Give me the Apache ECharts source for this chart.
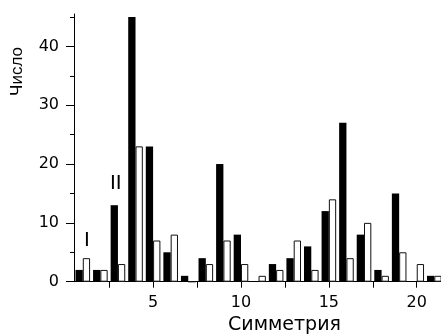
<!DOCTYPE html>
<html>
<head>
<meta charset="utf-8">
<script src="https://cdn.jsdelivr.net/npm/echarts@6/dist/echarts.min.js"></script>
<style>
  html, body { margin: 0; padding: 0; background: #fff; }
  #chart { width: 441px; height: 334px; }
</style>
</head>
<body>
<div id="chart"></div>
<script>
// симметрия 1..21, два набора (чёрный / белый)
const symmetry = [1, 2, 3, 4, 5, 6, 7, 8, 9, 10, 11, 12, 13, 14, 15, 16, 17, 18, 19, 20, 21]
const blackVals = [2, 2, 13, 45, 23, 5, 1, 4, 20, 8, 0, 3, 4, 6, 12, 27, 8, 2, 15, 0, 1]
const whiteVals = [4, 2, 3, 23, 7, 8, 0, 3, 7, 3, 1, 2, 7, 2, 14, 4, 10, 1, 5, 3, 1]
const xTicks = [2.5, 5, 7.5, 10, 12.5, 15, 17.5, 20]
const xLabels = [5, 10, 15, 20]
const yMinorTicks = [5, 15, 25, 35, 45]
const yLabels = [0, 10, 20, 30, 40]

const font = 'Liberation Sans, Arial, sans-serif'
const wide = 'DejaVu Sans, sans-serif'
const chart = echarts.init(document.getElementById('chart'))

const option = {
  animation: false,
  grid: { left: 74, right: 0, top: 14, bottom: 52.3, outerBoundsMode: 'none' },
  xAxis: {
    type: 'value',
    min: 0.5,
    max: 21.38,
    name: 'Симметрия',
    nameLocation: 'middle',
    nameGap: 33,
    nameTextStyle: { fontFamily: wide, fontSize: 19, color: '#000', padding: [0, 0, 0, 54] },
    splitLine: { show: false },
    axisLine: { lineStyle: { color: '#000', width: 1 } },
    axisTick: { length: 6, customValues: xTicks, lineStyle: { color: '#000' } },
    axisLabel: { customValues: xLabels, margin: 13, fontFamily: wide, fontSize: 16, color: '#000' }
  },
  yAxis: [{
    type: 'value',
    min: 0,
    max: 45.5,
    position: 'left',
    splitLine: { show: false },
    axisLine: { show: true, lineStyle: { color: '#000', width: 1 } },
    axisTick: { length: 4, customValues: yMinorTicks, lineStyle: { color: '#000' } },
    axisLabel: { show: false }
  }, {
    type: 'value',
    min: 0,
    max: 45.5,
    position: 'left',
    offset: 0,
    splitLine: { show: false },
    axisLine: { show: false },
    axisTick: { show: true, length: 8, customValues: yLabels, lineStyle: { color: '#000' } },
    axisLabel: { customValues: yLabels, margin: 15, fontFamily: wide, fontSize: 16, color: '#000' }
  }],
  series: [{
    type: 'bar',
    barWidth: 7.3,
    barGap: '0%',
    itemStyle: { color: '#000' },
    data: symmetry.map((s, i) => [s, blackVals[i]])
  }, {
    type: 'bar',
    barWidth: 7.3,
    barGap: '0%',
    itemStyle: { color: '#fff', borderColor: '#111', borderWidth: 1 },
    data: symmetry.map((s, i) => [s, whiteVals[i]])
  }],
  graphic: [
    { type: 'text', x: 17.5, y: 71.5, rotation: Math.PI / 2,
      style: { text: 'Число', font: '17px ' + font, fill: '#000', align: 'center', verticalAlign: 'middle' } },
    { type: 'text', left: 84, top: 230, style: { text: 'I', font: '21px ' + font, fill: '#000' } },
    { type: 'text', left: 110, top: 173, style: { text: 'II', font: '21px ' + font, fill: '#000' } }
  ]
}
chart.setOption(option)
</script>
</body>
</html>
